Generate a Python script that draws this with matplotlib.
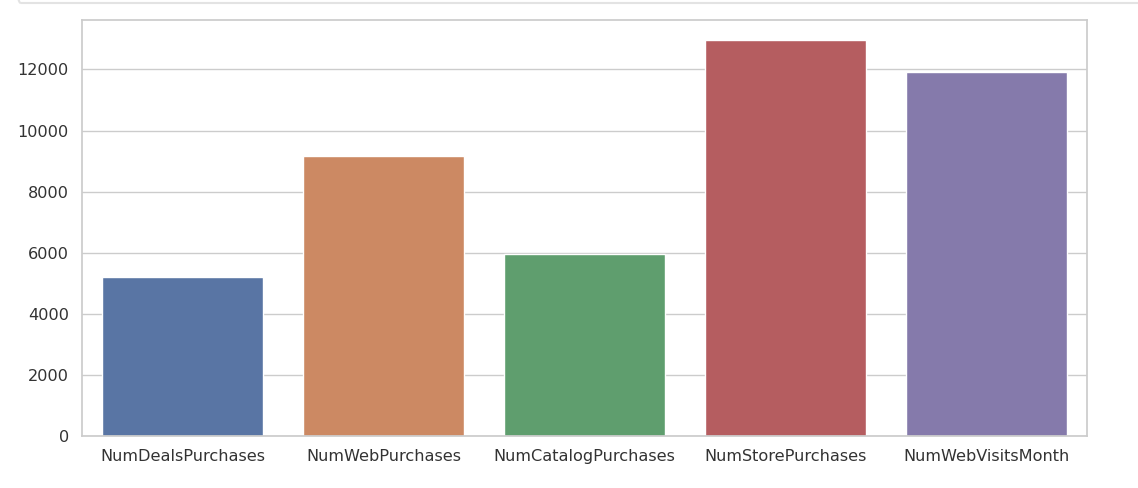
import matplotlib
matplotlib.use("Agg")
import matplotlib.pyplot as plt
import seaborn as sns
from matplotlib.patches import FancyBboxPatch

# Total purchases per channel
channels = ["NumDealsPurchases", "NumWebPurchases", "NumCatalogPurchases",
            "NumStorePurchases", "NumWebVisitsMonth"]
totals = [5208, 9150, 5963, 12970, 11909]

sns.set_theme(style="whitegrid")
plt.rcParams['font.family'] = ['DejaVu Sans']

fig = plt.figure(figsize=(11.38, 4.88), dpi=100)
ax = fig.add_axes([82 / 1138, 1 - 436 / 488, 1005 / 1138, 416 / 488])

sns.barplot(x=channels, y=totals, hue=channels, palette="deep",
            saturation=0.75, legend=False, ax=ax)

ax.tick_params(axis='both', labelsize=11.6, colors='#333333')
ax.set_ylim(0, max(totals) * 1.05)

# notebook cell border peeking in at the top of the screenshot
fig.patches.append(FancyBboxPatch((7 / 1138, 1 - 3 / 488), 1.2, 1, transform=fig.transFigure,
                                  boxstyle="round,pad=0,rounding_size=0.012",
                                  facecolor='none', edgecolor='#e3e3e3', lw=1.5,
                                  clip_on=False))

fig.savefig("out.png", dpi=100)
